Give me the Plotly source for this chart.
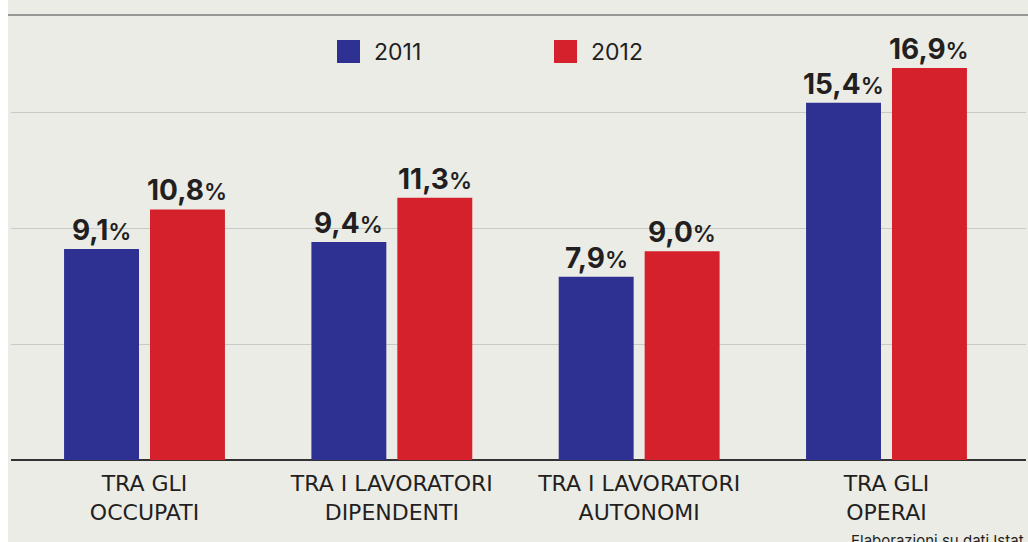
import plotly.graph_objects as go

# ---- data ----
categories = ["TRA GLI<br>OCCUPATI", "TRA I LAVORATORI<br>DIPENDENTI",
              "TRA I LAVORATORI<br>AUTONOMI", "TRA GLI<br>OPERAI"]
series_names = ["2011", "2012"]
values_2011 = [9.1, 9.4, 7.9, 15.4]
values_2012 = [10.8, 11.3, 9.0, 16.9]
source_text = "Elaborazioni su dati Istat"

BLUE = "#2E3192"
RED = "#D4212B"
BG = "#ECECE7"
FONT = "Inter, Lato, sans-serif"
TICKFONT = "DejaVu Sans, sans-serif"
INK = "#231F20"

W, H = 1028, 542
ML, MR, MT, MB = 11, 2, 15, 82
PW, PH = W - ML - MR, H - MT - MB
PX_PER_UNIT = 23.2


def px_x(p):
    return (p - ML) / PW


def px_y(p):
    return (H - MB - p) / PH


def fmt(v):
    s = f"{v:.1f}".replace(".", ",")
    return f"<b>{s}</b><span style='font-size:23px;font-weight:600'>%</span>"


xs = list(range(len(categories)))
bw = 0.303
gap = 0.0445

fig = go.Figure()
annotations = []
for vals, color, off, name in [(values_2011, BLUE, -bw - gap / 2, series_names[0]),
                               (values_2012, RED, gap / 2, series_names[1])]:
    fig.add_trace(go.Bar(
        x=xs, y=vals, name=name, width=bw, offset=off,
        marker=dict(color=color, line=dict(width=0)),
        showlegend=False, hoverinfo="y",
    ))
    for xi, v in zip(xs, vals):
        annotations.append(dict(
            x=xi + off + bw / 2, y=v, xref="x", yref="y", text=fmt(v),
            showarrow=False, xanchor="center", yanchor="bottom", yshift=0,
            font=dict(family=FONT, size=28, color=INK)))

shapes = [
    # white strip at far left
    dict(type="rect", xref="paper", yref="paper", x0=px_x(-5), x1=px_x(8),
         y0=px_y(H + 5), y1=px_y(-5), fillcolor="white", line=dict(width=0), layer="below"),
    # top rule
    dict(type="line", xref="paper", yref="paper", x0=px_x(8), x1=px_x(W),
         y0=px_y(15), y1=px_y(15), line=dict(color="#7A7A78", width=1.6)),
]
legend_x = [337, 554]
for name, color, lx in zip(series_names, [BLUE, RED], legend_x):
    shapes.append(dict(type="rect", xref="paper", yref="paper",
                       x0=px_x(lx), x1=px_x(lx + 23), y0=px_y(63), y1=px_y(40),
                       fillcolor=color, line=dict(width=0)))
    annotations.append(dict(xref="paper", yref="paper", x=px_x(lx + 35), y=px_y(52),
                            text=name, showarrow=False, xanchor="left", yanchor="middle",
                            font=dict(family=FONT, size=23, color=INK)))
annotations.append(dict(xref="paper", yref="paper", x=px_x(1026), y=px_y(529),
                        text=source_text, showarrow=False, xanchor="right", yanchor="top",
                        font=dict(family=FONT, size=15, color=INK)))

fig.update_layout(
    width=W, height=H, margin=dict(l=ML, r=MR, t=MT, b=MB),
    paper_bgcolor=BG, plot_bgcolor=BG, barmode="overlay",
    shapes=shapes, annotations=annotations, showlegend=False,
    font=dict(family=FONT, color=INK),
)
fig.update_xaxes(
    range=[-133.5 / 247.33, (PW - 133.5) / 247.33],
    tickvals=xs, ticktext=categories, showgrid=False, zeroline=False,
    showline=False, ticks="", ticklabelstandoff=8,
    tickfont=dict(family=TICKFONT, size=22, color=INK),
)
fig.update_yaxes(
    range=[0, PH / PX_PER_UNIT], tickvals=[5, 10, 15], showticklabels=False,
    showgrid=True, gridcolor="#C9C9C6", gridwidth=1.2,
    zeroline=True, zerolinecolor="#333333", zerolinewidth=1.6, showline=False,
)

fig.write_html("out.html")
